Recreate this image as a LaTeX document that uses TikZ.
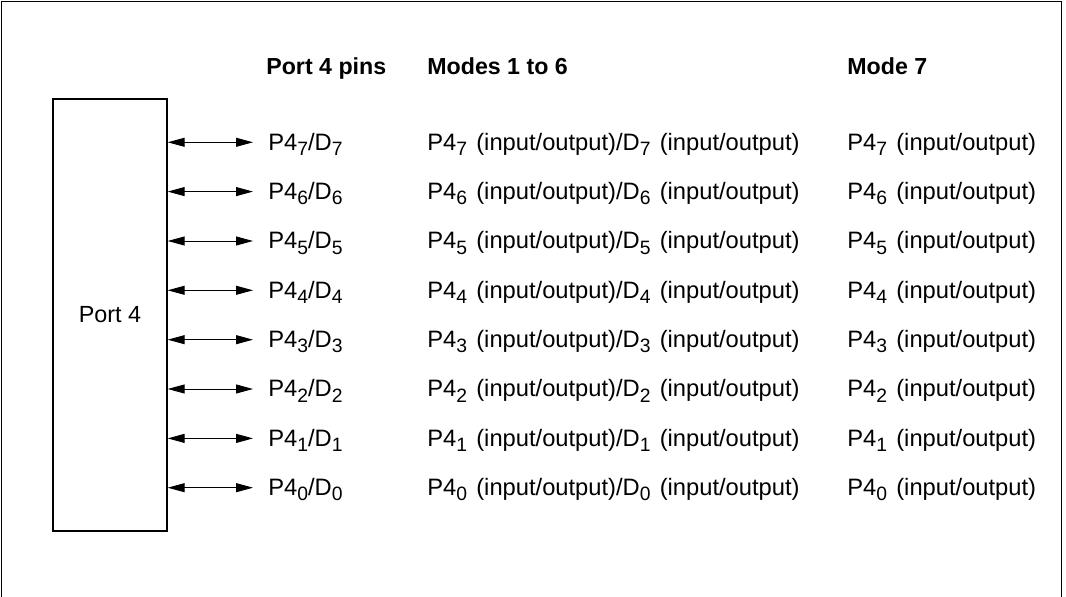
\documentclass[tikz,border=0pt]{standalone}
\usepackage{fontspec}
\setmainfont{Liberation Sans}
\usetikzlibrary{arrows.meta}
\newcommand{\pinsub}[1]{\raisebox{-2.9pt}{\fontsize{11}{12}\selectfont #1}}
\newcommand{\pinio}[2]{#1\pinsub{#2}\kern1.5pt{} (input/output)}

\begin{document}
\begin{tikzpicture}[x=0.02cm, y=-0.02cm,
    lbl/.style={inner sep=0pt, anchor=base west, font=\fontsize{13.5}{15}\selectfont},
    hdr/.style={lbl, font=\fontsize{13.2}{15}\selectfont\bfseries},
    portbox/.style={draw, line width=0.8pt, inner sep=0pt, minimum width=2.28cm,
                    minimum height=8.64cm, font=\fontsize{13.3}{15}\selectfont},
    pinarr/.style={{Triangle[length=0.34cm, width=0.18cm]}-{Triangle[length=0.34cm, width=0.18cm]},
                   line width=0.55pt}
  ]
  \useasboundingbox (0,0) rectangle (1066,597);

  % Frame, open at the bottom
  \draw[line width=0.8pt] (1.5,597) -- (1.5,1.5) -- (1061.5,1.5) -- (1061.5,597);

  % Headers
  \node[hdr] (hpins) at (266,75) {Port 4 pins};
  \node[hdr] (hmodes) at (427,75) {Modes 1 to 6};
  \node[hdr] (hseven) at (847,75) {Mode 7};

  % Port block
  \node[portbox] (port) at (110,315) {Port 4};

  % Pins
  \foreach \k/\y in {7/142.3, 6/191.6, 5/241.0, 4/290.3,
                     3/339.7, 2/389.0, 1/438.4, 0/487.7} {
    \coordinate (tip\k) at (253,\y);
    \draw[pinarr] (port.east |- tip\k) -- (tip\k);
    \node[lbl] (pin\k) at (268,\y+8) {P4\pinsub{\k}/D\pinsub{\k}};
    \node[lbl] (mode\k) at (427,\y+8) {\pinio{P4}{\k}/\pinio{D}{\k}};
    \node[lbl] (seven\k) at (847,\y+8) {\pinio{P4}{\k}};
  }
\end{tikzpicture}
\end{document}
